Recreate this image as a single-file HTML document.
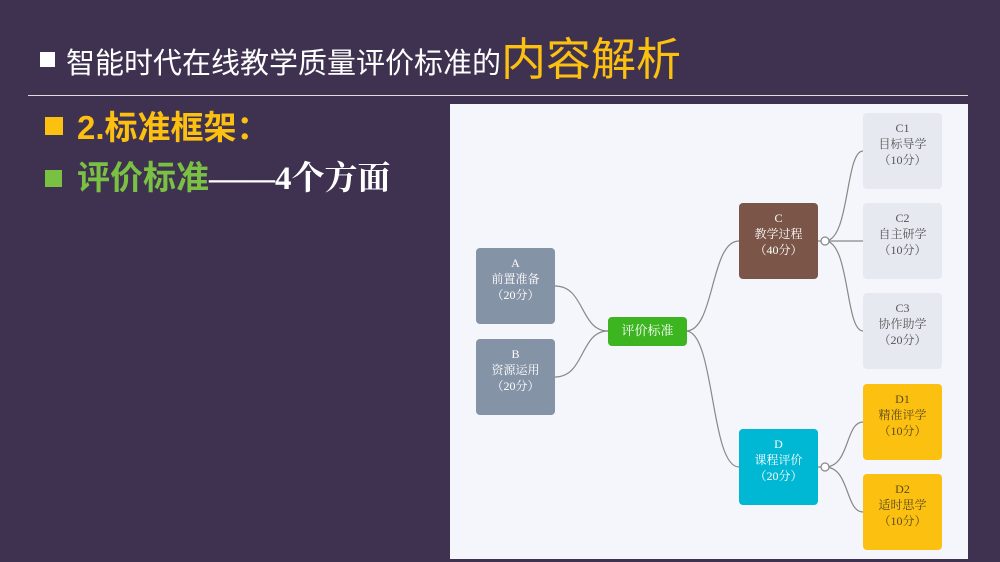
<!DOCTYPE html>
<html><head><meta charset="utf-8"><style>
body{margin:0;width:1000px;height:562px;background:#3f3250;position:relative;overflow:hidden;font-family:"Liberation Sans","Noto Sans CJK SC",sans-serif}
.a{position:absolute}
.n{position:absolute;width:79px;height:76px;border-radius:4px;font-family:"Liberation Serif","Noto Serif CJK SC",serif;font-size:12px;line-height:16px;text-align:center;color:#fff;box-sizing:border-box;padding-top:7px}
.g{background:#8593a6}.l{background:#e6e9f0;color:#555}.y{background:#fcc010;color:#5a4a20}
</style></head><body>
<div class="a" style="left:40px;top:52px;width:15px;height:15px;background:#fff"></div>
<div class="a" style="left:66px;top:42px;color:#fff;font-size:29px;line-height:36px;white-space:nowrap">智能时代在线教学质量评价标准的<span style="color:#fcc010;font-size:45px;vertical-align:-2px">内容解析</span></div>
<div class="a" style="left:28px;top:95px;width:940px;height:1px;background:#ddd"></div>
<div class="a" style="left:45px;top:117px;width:18px;height:18px;background:#fcc010"></div>
<div class="a" style="left:77px;top:108px;color:#fcc010;font-size:33px;font-weight:bold;line-height:40px">2.标准框架：</div>
<div class="a" style="left:45px;top:170px;width:17px;height:17px;background:#7ac143"></div>
<div class="a" style="left:77px;top:158px;color:#7ac143;font-size:33px;font-weight:bold;line-height:40px;white-space:nowrap">评价标准<span style="color:#fff;font-family:'Liberation Serif','Noto Serif CJK SC',serif">——4个方面</span></div>
<div class="a" style="left:450px;top:104px;width:518px;height:455px;background:#f4f6fb"></div>
<svg class="a" style="left:0;top:0" width="1000" height="562" fill="none" stroke="#888" stroke-width="1.2">
<path d="M555 286 C585 286 580 331 608 331"/><path d="M555 377 C585 377 580 331 608 331"/>
<path d="M686 331 C715 331 710 241 739 241"/><path d="M686 331 C715 331 710 467 739 467"/>
<path d="M818 241 H825 C850 241 845 151 863 151"/><path d="M825 241 H863"/><path d="M825 241 C850 241 845 331 863 331"/>
<path d="M818 467 H825 C850 467 845 422 863 422"/><path d="M825 467 C850 467 845 512 863 512"/>
<circle cx="825" cy="241" r="4" fill="#fff"/><circle cx="825" cy="467" r="4" fill="#fff"/>
</svg>
<div class="n g" style="left:476px;top:248px">A<br>前置准备<br>（20分）</div>
<div class="n g" style="left:476px;top:339px">B<br>资源运用<br>（20分）</div>
<div class="n" style="left:608px;top:317px;height:29px;background:#3cb521;font-size:13px;padding-top:6px">评价标准</div>
<div class="n" style="left:739px;top:203px;background:#7a5548">C<br>教学过程<br>（40分）</div>
<div class="n" style="left:739px;top:429px;background:#00b8d4">D<br>课程评价<br>（20分）</div>
<div class="n l" style="left:863px;top:113px">C1<br>目标导学<br>（10分）</div>
<div class="n l" style="left:863px;top:203px">C2<br>自主研学<br>（10分）</div>
<div class="n l" style="left:863px;top:293px">C3<br>协作助学<br>（20分）</div>
<div class="n y" style="left:863px;top:384px">D1<br>精准评学<br>（10分）</div>
<div class="n y" style="left:863px;top:474px">D2<br>适时思学<br>（10分）</div>
</body></html>
